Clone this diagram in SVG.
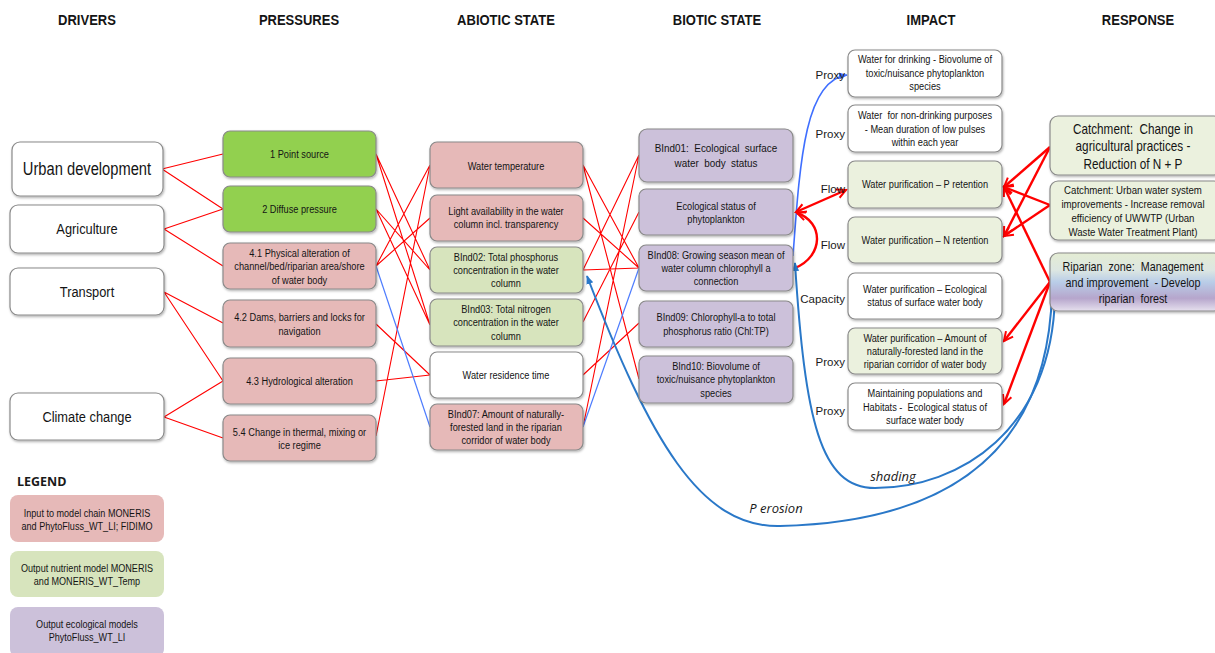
<svg xmlns="http://www.w3.org/2000/svg" width="1215" height="653" viewBox="0 0 1215 653">
<style>
.bx{stroke:#8a8a8a;stroke-width:1.2;filter:url(#sh)}
.gr{fill:#92D050}.pk{fill:#E6B9B8}.lg{fill:#D7E4BD}.pu{fill:#CCC1DA}.wh{fill:#ffffff}.ig{fill:#EBF1DE}
.t{font-family:"Liberation Sans",Arial,sans-serif;font-size:11px;text-anchor:middle;fill:#141414}
.h{font-family:"Liberation Sans",Arial,sans-serif;font-size:15.5px;font-weight:bold;text-anchor:middle;fill:#141414}
.lb{font-family:"Liberation Sans",Arial,sans-serif;font-size:11.5px;text-anchor:end;fill:#1a1a1a}
.it{font-family:"Open Sans","Liberation Sans",sans-serif;font-size:13px;font-style:italic;fill:#1a1a1a}
.r{stroke:#FF0000;stroke-width:1.1;fill:none}
.bl{stroke:#4D7CFE;stroke-width:1.2;fill:none}
.bd{stroke:#3F6FFF;stroke-width:1.6;fill:none}
.rt{stroke:#FF0000;stroke-width:2.4;fill:none}
.db{stroke:#2A78C8;stroke-width:2;fill:none}
</style>
<defs>
<filter id="sh" x="-10%" y="-10%" width="120%" height="130%"><feDropShadow dx="0.8" dy="1.5" stdDeviation="1" flood-color="#000" flood-opacity="0.3"/></filter>
<linearGradient id="rip" x1="0" y1="0" x2="0" y2="1">
<stop offset="0" stop-color="#E4ECD3"/><stop offset="0.3" stop-color="#DCE6E2"/><stop offset="0.5" stop-color="#B9CDE8"/><stop offset="0.78" stop-color="#B6A6CC"/><stop offset="1" stop-color="#E6E0EE"/>
</linearGradient>
<marker id="ra" viewBox="0 0 12 12" refX="10" refY="6" markerWidth="12" markerHeight="12" markerUnits="userSpaceOnUse" orient="auto-start-reverse"><path d="M1,1.5 L10,6 L1,10.5" fill="none" stroke="#FF0000" stroke-width="2"/></marker>
<marker id="ba" viewBox="0 0 10 10" refX="9" refY="5" markerWidth="9" markerHeight="9" markerUnits="userSpaceOnUse" orient="auto"><path d="M0,1 L10,5 L0,9 z" fill="#2A78C8"/></marker>
<marker id="bb" viewBox="0 0 10 10" refX="9" refY="5" markerWidth="9" markerHeight="9" markerUnits="userSpaceOnUse" orient="auto"><path d="M0,1 L10,5 L0,9 z" fill="#3F6FFF"/></marker>
</defs>
<rect width="1215" height="653" fill="#ffffff"/>

<g id="headers">
<text class="h" transform="matrix(0.84,0,0,1,13.92,0)" x="87" y="25">DRIVERS</text>
<text class="h" transform="matrix(0.84,0,0,1,47.84,0)" x="299" y="25">PRESSURES</text>
<text class="h" transform="matrix(0.84,0,0,1,80.96,0)" x="506" y="25">ABIOTIC STATE</text>
<text class="h" transform="matrix(0.84,0,0,1,114.72,0)" x="717" y="25">BIOTIC STATE</text>
<text class="h" transform="matrix(0.84,0,0,1,148.96,0)" x="931" y="25">IMPACT</text>
<text class="h" transform="matrix(0.84,0,0,1,182.08,0)" x="1138" y="25">RESPONSE</text>
</g>

<g id="connectors">
<path class="r" d="M162,169 L223,154 M162,169 L223,209 M164,229 L223,209 M164,229 L223,266 M164,292 L223,323 M164,292 L223,381 M164,417 L223,381 M164,417 L223,438"/>
<path class="r" d="M376,154 L430,270 M376,154 L430,325 M376,209 L430,270 M376,209 L430,325 M376,266 L430,165 M376,266 L430,218 M376,324 L430,375 M376,381 L430,375 M376,436 L430,165"/>
<path class="bl" d="M376,266 L430,427"/>
<path class="r" d="M583,165 L639,268 M583,165 L639,379 M583,218 L639,268 M583,270 L639,155 M583,270 L639,268 M583,322 L639,212 M583,375 L639,323 M583,427 L639,155"/>
<path class="bl" d="M583,427 L639,268"/>
<path class="bd" d="M793,256 C800,160 805,80 847,75" marker-end="url(#bb)"/>
<path class="rt" d="M796,212 L846,190" marker-start="url(#ra)" marker-end="url(#ra)"/>
<path class="rt" d="M795,268 C824,256 824,222 797,213" marker-end="url(#ra)"/>
<path class="rt" d="M1050,147 L1004,187" marker-end="url(#ra)"/>
<path class="rt" d="M1050,147 L1004,236" marker-end="url(#ra)"/>
<path class="rt" d="M1050,205 L1004,187" marker-end="url(#ra)"/>
<path class="rt" d="M1050,205 L1004,236" marker-end="url(#ra)"/>
<path class="rt" d="M1050,282 L1004,187" marker-end="url(#ra)"/>
<path class="rt" d="M1050,282 L1004,341" marker-end="url(#ra)"/>
<path class="rt" d="M1050,282 L1004,404" marker-end="url(#ra)"/>
<path class="db" d="M1052,292 C1048,450 950,522 780,526 C700,528 650,440 587,276" marker-end="url(#ba)"/>
<path class="db" d="M1055,296 C1052,430 960,488 875,488 C820,488 805,420 795,263" marker-end="url(#ba)"/>
<text class="it" x="893" y="481" text-anchor="middle">shading</text>
<text class="it" x="776" y="513" text-anchor="middle">P erosion</text>
<text class="lb" x="845" y="79">Proxy</text>
<text class="lb" x="845" y="138">Proxy</text>
<text class="lb" x="845" y="193">Flow</text>
<text class="lb" x="845" y="249">Flow</text>
<text class="lb" x="845" y="303">Capacity</text>
<text class="lb" x="845" y="366">Proxy</text>
<text class="lb" x="845" y="415">Proxy</text>
</g>

<g id="drivers">
<g id="d-urban"><rect class="bx wh" x="12" y="142" width="151" height="54" rx="8"/><g transform="matrix(0.84,0,0,1,13.92,0)"><text class="t" x="87" y="175" style="font-size:17.5px">Urban development</text></g></g>
<g id="d-agri"><rect class="bx wh" x="10" y="205" width="154" height="48" rx="8"/><g transform="matrix(0.84,0,0,1,13.92,0)"><text class="t" x="87" y="234" style="font-size:15.3px">Agriculture</text></g></g>
<g id="d-transport"><rect class="bx wh" x="10" y="268" width="154" height="47" rx="8"/><g transform="matrix(0.84,0,0,1,13.92,0)"><text class="t" x="87" y="297" style="font-size:15.3px">Transport</text></g></g>
<g id="d-climate"><rect class="bx wh" x="10" y="393" width="154" height="47" rx="8"/><g transform="matrix(0.84,0,0,1,13.92,0)"><text class="t" x="87" y="422" style="font-size:15.3px">Climate change</text></g></g>
</g>

<g id="pressures">
<g id="p1"><rect class="bx gr" x="223" y="131" width="153" height="46" rx="7"/><g transform="matrix(0.84,0,0,1,47.92,0)"><text class="t" x="299.5" y="158">1 Point source</text></g></g>
<g id="p2"><rect class="bx gr" x="223" y="186" width="153" height="46" rx="7"/><g transform="matrix(0.84,0,0,1,47.92,0)"><text class="t" x="299.5" y="213">2 Diffuse pressure</text></g></g>
<g id="p41"><rect class="bx pk" x="223" y="243" width="153" height="46" rx="7"/><g transform="matrix(0.84,0,0,1,47.92,0)"><text class="t" x="299.5" y="257">4.1 Physical alteration of</text><text class="t" x="299.5" y="270">channel/bed/riparian area/shore</text><text class="t" x="299.5" y="284">of water body</text></g></g>
<g id="p42"><rect class="bx pk" x="223" y="300" width="153" height="47" rx="7"/><g transform="matrix(0.84,0,0,1,47.92,0)"><text class="t" x="299.5" y="321">4.2 Dams, barriers and locks for</text><text class="t" x="299.5" y="335">navigation</text></g></g>
<g id="p43"><rect class="bx pk" x="223" y="358" width="153" height="46" rx="7"/><g transform="matrix(0.84,0,0,1,47.92,0)"><text class="t" x="299.5" y="385">4.3 Hydrological alteration</text></g></g>
<g id="p54"><rect class="bx pk" x="223" y="415" width="153" height="46" rx="7"/><g transform="matrix(0.84,0,0,1,47.92,0)"><text class="t" x="299.5" y="436">5.4 Change in thermal, mixing or</text><text class="t" x="299.5" y="449">ice regime</text></g></g>
</g>

<g id="abiotic">
<g id="a-temp"><rect class="bx pk" x="430" y="142" width="153" height="46" rx="7"/><g transform="matrix(0.84,0,0,1,80.96,0)"><text class="t" x="506" y="170">Water temperature</text></g></g>
<g id="a-light"><rect class="bx pk" x="430" y="195" width="153" height="46" rx="7"/><g transform="matrix(0.84,0,0,1,80.96,0)"><text class="t" x="506" y="215">Light availability in the water</text><text class="t" x="506" y="228">column incl. transparency</text></g></g>
<g id="a-bind02"><rect class="bx lg" x="430" y="247" width="153" height="46" rx="7"/><g transform="matrix(0.84,0,0,1,80.96,0)"><text class="t" x="506" y="261">BInd02: Total phosphorus</text><text class="t" x="506" y="274">concentration in the water</text><text class="t" x="506" y="287">column</text></g></g>
<g id="a-bind03"><rect class="bx lg" x="430" y="299" width="153" height="47" rx="7"/><g transform="matrix(0.84,0,0,1,80.96,0)"><text class="t" x="506" y="313">BInd03: Total nitrogen</text><text class="t" x="506" y="326">concentration in the water</text><text class="t" x="506" y="340">column</text></g></g>
<g id="a-resid"><rect class="bx wh" x="430" y="352" width="153" height="46" rx="7"/><g transform="matrix(0.84,0,0,1,80.96,0)"><text class="t" x="506" y="379">Water residence time</text></g></g>
<g id="a-bind07"><rect class="bx pk" x="430" y="404" width="153" height="46" rx="7"/><g transform="matrix(0.84,0,0,1,80.96,0)"><text class="t" x="506" y="418">BInd07: Amount of naturally-</text><text class="t" x="506" y="431">forested land in the riparian</text><text class="t" x="506" y="444">corridor of water body</text></g></g>
</g>

<g id="biotic">
<g id="b-bind01"><rect class="bx pu" x="639" y="129" width="154" height="53" rx="8"/><g transform="matrix(0.84,0,0,1,114.56,0)"><text class="t" x="716" y="152" style="font-size:11.8px" xml:space="preserve">BInd01:  Ecological  surface</text><text class="t" x="716" y="167" style="font-size:11.8px" xml:space="preserve">water  body  status</text></g></g>
<g id="b-phyto"><rect class="bx pu" x="639" y="189" width="154" height="46" rx="7"/><g transform="matrix(0.84,0,0,1,114.56,0)"><text class="t" x="716" y="210">Ecological status of</text><text class="t" x="716" y="223">phytoplankton</text></g></g>
<g id="b-bind08"><rect class="bx pu" x="639" y="245" width="154" height="46" rx="7"/><g transform="matrix(0.84,0,0,1,114.56,0)"><text class="t" x="716" y="259">BInd08: Growing season mean of</text><text class="t" x="716" y="272">water column chlorophyll a</text><text class="t" x="716" y="285">connection</text></g></g>
<g id="b-bind09"><rect class="bx pu" x="639" y="301" width="154" height="46" rx="7"/><g transform="matrix(0.84,0,0,1,114.56,0)"><text class="t" x="716" y="321">BInd09: Chlorophyll-a to total</text><text class="t" x="716" y="335">phosphorus ratio (Chl:TP)</text></g></g>
<g id="b-bind10"><rect class="bx pu" x="639" y="356" width="154" height="47" rx="7"/><g transform="matrix(0.84,0,0,1,114.56,0)"><text class="t" x="716" y="370">BInd10: Biovolume of</text><text class="t" x="716" y="383">toxic/nuisance phytoplankton</text><text class="t" x="716" y="397">species</text></g></g>
</g>

<g id="impact">
<g id="i-drink"><rect class="bx wh" x="848" y="50" width="154" height="47" rx="7"/><g transform="matrix(0.84,0,0,1,148,0)"><text class="t" x="925" y="63">Water for drinking - Biovolume of</text><text class="t" x="925" y="77">toxic/nuisance phytoplankton</text><text class="t" x="925" y="90">species</text></g></g>
<g id="i-nondrink"><rect class="bx wh" x="848" y="105" width="154" height="47" rx="7"/><g transform="matrix(0.84,0,0,1,148,0)"><text class="t" x="925" y="119" xml:space="preserve">Water  for non-drinking purposes</text><text class="t" x="925" y="133">- Mean duration of low pulses</text><text class="t" x="925" y="146">within each year</text></g></g>
<g id="i-pret"><rect class="bx ig" x="848" y="161" width="154" height="47" rx="7"/><g transform="matrix(0.84,0,0,1,148,0)"><text class="t" x="925" y="188">Water purification – P retention</text></g></g>
<g id="i-nret"><rect class="bx ig" x="848" y="217" width="154" height="46" rx="7"/><g transform="matrix(0.84,0,0,1,148,0)"><text class="t" x="925" y="244">Water purification – N retention</text></g></g>
<g id="i-eco"><rect class="bx wh" x="848" y="273" width="154" height="46" rx="7"/><g transform="matrix(0.84,0,0,1,148,0)"><text class="t" x="925" y="293">Water purification – Ecological</text><text class="t" x="925" y="306">status of surface water body</text></g></g>
<g id="i-forest"><rect class="bx ig" x="848" y="328" width="154" height="46" rx="7"/><g transform="matrix(0.84,0,0,1,148,0)"><text class="t" x="925" y="342">Water purification – Amount of</text><text class="t" x="925" y="355">naturally-forested land in the</text><text class="t" x="925" y="368">riparian corridor of water body</text></g></g>
<g id="i-habitat"><rect class="bx wh" x="848" y="383" width="154" height="47" rx="7"/><g transform="matrix(0.84,0,0,1,148,0)"><text class="t" x="925" y="397">Maintaining populations and</text><text class="t" x="925" y="411" xml:space="preserve">Habitats -  Ecological status of</text><text class="t" x="925" y="424">surface water body</text></g></g>
</g>

<g id="response">
<g id="r-agri"><rect class="bx ig" x="1050" y="116" width="172" height="59" rx="8"/><g transform="matrix(0.84,0,0,1,181.28,0)"><text class="t" x="1133" y="134" style="font-size:14px" xml:space="preserve">Catchment:  Change in</text><text class="t" x="1133" y="151" style="font-size:14px">agricultural practices -</text><text class="t" x="1133" y="169" style="font-size:14px">Reduction of N + P</text></g></g>
<g id="r-urban"><rect class="bx ig" x="1050" y="181" width="172" height="59" rx="8"/><g transform="matrix(0.84,0,0,1,181.28,0)"><text class="t" x="1133" y="194" style="font-size:11.5px">Catchment: Urban water system</text><text class="t" x="1133" y="208" style="font-size:11.5px">improvements - Increase removal</text><text class="t" x="1133" y="222" style="font-size:11.5px">efficiency of UWWTP (Urban</text><text class="t" x="1133" y="236" style="font-size:11.5px">Waste Water Treatment Plant)</text></g></g>
<g id="r-riparian"><rect class="bx" fill="url(#rip)" x="1050" y="253" width="172" height="58" rx="8"/><g transform="matrix(0.84,0,0,1,181.28,0)"><text class="t" x="1133" y="271" style="font-size:12.8px" xml:space="preserve">Riparian  zone:  Management</text><text class="t" x="1133" y="287" style="font-size:12.8px" xml:space="preserve">and improvement  - Develop</text><text class="t" x="1133" y="303" style="font-size:12.8px" xml:space="preserve">riparian  forest</text></g></g>
</g>

<g id="legend">
<text x="17" y="486" style="font-family:'Open Sans','Liberation Sans',sans-serif;font-size:12.5px;font-weight:bold;fill:#1a1a1a">LEGEND</text>
<g id="leg-input"><rect class="pk" x="10" y="495" width="154" height="47" rx="8"/><g transform="matrix(0.84,0,0,1,13.92,0)"><text class="t" x="87" y="517" style="font-size:10.8px">Input to model chain MONERIS</text><text class="t" x="87" y="530" style="font-size:10.8px">and PhytoFluss_WT_LI; FIDIMO</text></g></g>
<g id="leg-nutrient"><rect class="lg" x="10" y="551" width="154" height="46" rx="8"/><g transform="matrix(0.84,0,0,1,13.92,0)"><text class="t" x="87" y="572" style="font-size:10.8px">Output nutrient model MONERIS</text><text class="t" x="87" y="585" style="font-size:10.8px">and MONERIS_WT_Temp</text></g></g>
<g id="leg-eco"><rect class="pu" x="10" y="607" width="154" height="50" rx="8"/><g transform="matrix(0.84,0,0,1,13.92,0)"><text class="t" x="87" y="628" style="font-size:10.8px">Output ecological models</text><text class="t" x="87" y="641" style="font-size:10.8px">PhytoFluss_WT_LI</text></g></g>
</g>
</svg>
